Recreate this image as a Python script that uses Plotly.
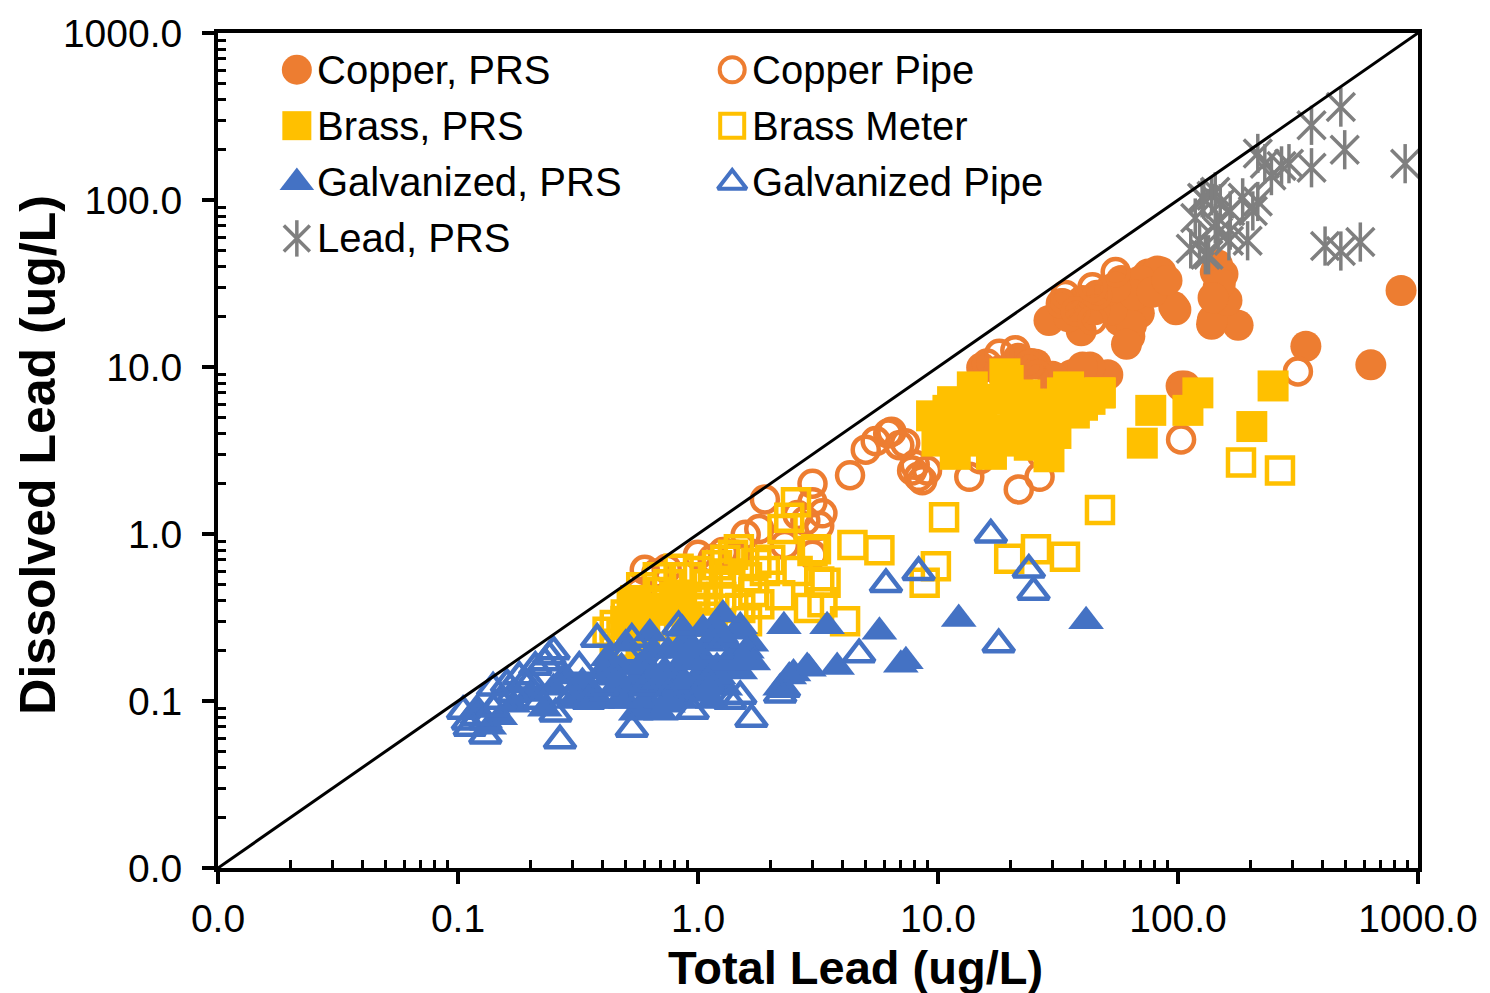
import plotly.graph_objects as go

# ---- measured lead concentrations (ug/L): total vs dissolved ----
copper_prs_total = [636, 850, 341, 178, 138, 147, 147, 154, 98, 85, 75, 64, 63, 57, 60, 69, 69, 29,
                    40, 58, 48, 64, 39.5, 103, 15.2, 25.6, 36, 51, 43, 21.6, 30, 18, 139, 143, 96,
                    61, 82, 53, 24.5, 107, 146, 160, 150, 40, 70, 52, 45, 66, 35, 33, 55, 78, 90, 140]
copper_prs_diss = [10.3, 28.7, 13.3, 17.8, 18, 24, 30, 36, 22, 37, 36, 24, 15.3, 19, 25, 29, 21, 19,
                   25, 33, 26.5, 17.8, 16.5, 7.7, 9.9, 10.4, 9.0, 9.0, 10, 11.3, 8.8, 9.5, 19.1, 37, 23,
                   13.7, 37.6, 22, 10.5, 7.7, 41, 25, 31.5, 10.0, 33, 29, 22, 27, 20, 24, 30, 28, 33, 26]

copper_pipe_total = [103, 316, 21.7, 26.5, 4.3, 1.9, 3.0, 3.0, 3.3, 3.2, 6.4, 7.3, 8.3, 7.8, 13.5, 6.2,
                     6.9, 8.0, 8.6, 21, 24, 32.5, 34, 37.5, 44, 46, 55, 44, 1.8, 2.3, 3.0, 1.58, 1.44,
                     0.74, 0.67, 1.15, 0.6, 0.57, 1.0, 1.27, 2.6, 2.8, 5.5, 5.0, 9.0, 15, 16, 18, 26, 27]
copper_pipe_diss = [3.68, 9.4, 1.85, 2.2, 2.25, 1.61, 2.0, 1.55, 1.33, 1.12, 4.1, 3.5, 2.2, 2.4, 2.2, 4.0,
                    3.4, 2.6, 2.1, 12.6, 10.3, 24, 27, 21.6, 19.1, 27, 37, 30, 1.07, 0.86, 0.75, 0.99, 0.75,
                    0.62, 0.58, 0.71, 0.61, 0.45, 0.75, 0.78, 1.3, 1.2, 3.6, 3.2, 2.4, 2.8, 10.5, 12, 9, 3.0]

brass_prs_total = [77, 71, 121, 110, 203, 249, 47.5, 13.9, 19.6, 9.4, 11.8, 16.7, 29, 33, 28, 37, 47,
                   22, 15.2, 11, 9.9, 13, 18.5, 24, 19.5, 16.3, 35, 43, 19, 12, 26, 31, 14, 10.5,
                   0.5, 0.6, 0.7, 0.9, 21, 17, 25, 14.5, 11.5, 23, 30, 40, 0.55, 0.8]
brass_prs_diss = [5.5, 3.5, 7.0, 5.5, 4.4, 7.7, 7.0, 7.6, 8.3, 5.1, 3.0, 3.0, 2.9, 7.0, 5.5, 5.3, 7.0,
                  4.6, 4.8, 5.5, 3.6, 3.6, 3.6, 3.4, 7.0, 6.4, 7.6, 6.4, 9.1, 4.2, 6.0, 4.0, 5.8, 4.4,
                  0.3, 0.25, 0.35, 0.3, 5.2, 4.2, 4.0, 4.6, 6.2, 6.8, 4.8, 5.9, 0.4, 0.42]

brass_meter_total = [47.3, 183, 266, 10.6, 9.8, 8.8, 19.8, 25.6, 33.8, 4.4, 5.7, 4.1, 3.3, 3.0, 2.56,
                     3.2, 2.25, 3.1, 3.4, 1.48, 1.75, 0.53, 0.45, 0.83, 1.33, 2.2, 2.9, 0.5, 0.55, 0.6,
                     0.65, 0.7, 0.75, 0.8, 0.9, 1.0, 1.1, 1.2, 1.3, 1.4, 1.6, 1.7, 1.9, 2.0, 0.65, 0.75,
                     0.85, 0.95, 1.05, 1.25, 1.5, 1.8, 0.58, 0.68, 2.4, 2.6, 1.15, 0.48, 0.42, 1.6,
                     0.45, 0.5, 0.6, 0.9, 1.1, 0.72, 1.35]
brass_meter_diss = [1.39, 2.68, 2.4, 1.26, 0.64, 0.51, 0.71, 0.81, 0.73, 0.86, 0.80, 0.30, 0.39, 0.79, 1.55,
                    0.52, 1.07, 0.81, 0.51, 0.81, 0.67, 0.38, 0.285, 0.62, 0.51, 0.43, 0.36, 0.33, 0.3, 0.36,
                    0.4, 0.45, 0.5, 0.42, 0.55, 0.6, 0.5, 0.65, 0.7, 0.75, 0.55, 0.45, 0.6, 0.7, 0.3, 0.35,
                    0.38, 0.42, 0.4, 0.42, 0.36, 0.38, 0.48, 0.55, 1.25, 0.6, 0.32, 0.25, 0.26, 0.3,
                    0.22, 0.2, 0.22, 0.32, 0.36, 0.28, 0.58]

galv_prs_total = [41.4, 12.2, 7.35, 7.0, 5.7, 3.45, 3.8, 2.85, 2.5, 2.9, 2.28, 2.4, 2.2, 1.67, 1.44,
                  1.5, 1.27, 1.19, 1.05, 0.86, 0.63, 0.5, 0.4, 0.45, 0.5, 0.55, 0.6, 0.65, 0.7, 0.75,
                  0.8, 0.85, 0.9, 1.0, 1.1, 1.2, 1.3, 1.4, 1.5, 1.6, 1.7, 0.35, 0.3, 0.28, 0.6, 0.7,
                  0.55, 0.95, 1.15, 0.65, 0.42, 0.48, 1.3, 0.9, 0.2, 0.23, 0.15, 0.12, 0.135, 0.17,
                  0.25, 0.38, 0.8, 1.05, 0.72, 0.33, 0.37, 0.44, 0.52, 0.58, 0.68, 0.78, 0.88, 0.98,
                  1.08, 1.22, 1.35, 1.55, 0.62, 0.82, 1.12, 0.47, 0.57, 0.75, 0.95, 1.25]
galv_prs_diss = [0.30, 0.31, 0.173, 0.165, 0.26, 0.28, 0.16, 0.16, 0.146, 0.156, 0.28, 0.14, 0.12, 0.22, 0.26,
                 0.28, 0.33, 0.28, 0.27, 0.27, 0.254, 0.22, 0.15, 0.12, 0.1, 0.13, 0.17, 0.09, 0.12, 0.2,
                 0.15, 0.1, 0.18, 0.14, 0.22, 0.16, 0.12, 0.19, 0.15, 0.2, 0.17, 0.12, 0.1, 0.14, 0.1, 0.085,
                 0.085, 0.11, 0.1, 0.2, 0.18, 0.16, 0.23, 0.23, 0.11, 0.09, 0.08, 0.09, 0.07, 0.095,
                 0.12, 0.1, 0.12, 0.18, 0.15, 0.13, 0.11, 0.14, 0.12, 0.14, 0.13, 0.11, 0.13, 0.17,
                 0.13, 0.14, 0.17, 0.18, 0.16, 0.2, 0.12, 0.1, 0.16, 0.095, 0.21, 0.25]

galv_pipe_total = [0.105, 0.11, 0.112, 0.12, 0.13, 0.13, 0.14, 0.15, 0.16, 0.17, 0.18, 0.2, 0.21, 0.22,
                   0.23, 0.25, 0.255, 0.266, 0.27, 0.3, 0.32, 0.38, 0.4, 0.45, 0.5, 0.53, 0.53, 0.6, 0.7,
                   0.83, 0.95, 1.1, 1.36, 1.5, 1.67, 2.2, 2.28, 4.69, 6.07, 8.3, 16.6, 17.9, 23.9, 25,
                   0.19, 0.24, 0.14, 0.35, 1.2, 0.75]
galv_pipe_diss = [0.087, 0.075, 0.069, 0.08, 0.062, 0.075, 0.09, 0.1, 0.126, 0.11, 0.14, 0.13, 0.16, 0.1,
                  0.17, 0.198, 0.084, 0.058, 0.13, 0.11, 0.16, 0.235, 0.12, 0.14, 0.19, 0.235, 0.068, 0.12, 0.16,
                  0.28, 0.087, 0.13, 0.10, 0.107, 0.078, 0.109, 0.118, 0.19, 0.50, 0.59, 0.99, 0.218, 0.61, 0.45,
                  0.13, 0.185, 0.12, 0.1, 0.2, 0.11]

lead_prs_total = [477, 360, 495, 360, 884, 410, 477, 575, 290, 230, 215, 245, 143, 150, 126, 186, 215,
                  205, 165, 143, 123, 130, 163, 195, 147, 118, 165, 270, 138, 113, 134, 128]
lead_prs_diss = [360, 280, 200, 156, 165, 53, 49.5, 56, 165, 165, 190, 140, 112, 95, 103, 103, 98,
                 86, 86, 72, 57, 47, 57, 57, 64, 78, 66, 160, 106, 51, 47, 101]

AXIS_TICKS = [0.01, 0.1, 1, 10, 100, 1000]
AXIS_TICKTEXT = ["0.0", "0.1", "1.0", "10.0", "100.0", "1000.0"]

ORANGE = "#ED7D31"
GOLD = "#FFC000"
BLUE = "#4472C4"
GREY = "#7F7F7F"
FONT = "Liberation Sans, Arial, sans-serif"

fig = go.Figure()


def add_points(x, y, symbol, color, size, lw=0):
    fig.add_trace(go.Scatter(
        x=x, y=y, mode="markers", showlegend=False, hoverinfo="skip",
        marker=dict(symbol=symbol, color=color, size=size,
                    line=dict(width=lw, color=color)),
    ))


add_points(copper_prs_total, copper_prs_diss, "circle", ORANGE, 31)
add_points(copper_pipe_total, copper_pipe_diss, "circle-open", ORANGE, 26, 4.5)
add_points(brass_prs_total, brass_prs_diss, "square", GOLD, 31)
add_points(brass_meter_total, brass_meter_diss, "square-open", GOLD, 26, 4.5)
add_points(galv_prs_total, galv_prs_diss, "triangle-up", BLUE, 31)
add_points(galv_pipe_total, galv_pipe_diss, "triangle-up-open", BLUE, 27, 4.5)
# asterisk: diagonal cross plus a vertical stroke
add_points(lead_prs_total, lead_prs_diss, "x-thin-open", GREY, 28, 3.5)
add_points(lead_prs_total, lead_prs_diss, "line-ns-open", GREY, 28, 3.5)

# 1:1 reference line
fig.add_trace(go.Scatter(
    x=[AXIS_TICKS[0], AXIS_TICKS[-1]], y=[AXIS_TICKS[0], AXIS_TICKS[-1]],
    mode="lines", line=dict(color="black", width=3),
    showlegend=False, hoverinfo="skip",
))

# legend drawn inside the plot on an overlay axis (0..1 spans the plot area)
legend_entries = [
    ("Copper, PRS", "circle", ORANGE, 30, 0, 0.0657, 0.956),
    ("Copper Pipe", "circle-open", ORANGE, 25, 4, 0.4285, 0.956),
    ("Brass, PRS", "square", GOLD, 29, 0, 0.0657, 0.889),
    ("Brass Meter", "square-open", GOLD, 24, 4, 0.4285, 0.889),
    ("Galvanized, PRS", "triangle-up", BLUE, 30, 0, 0.0657, 0.821),
    ("Galvanized Pipe", "triangle-up-open", BLUE, 25, 4, 0.4285, 0.821),
    ("Lead, PRS", "x-thin-open", GREY, 26, 3.5, 0.0657, 0.754),
]
for name, sym, col, sz, lw, lx, ly in legend_entries:
    syms = [sym, "line-ns-open"] if sym == "x-thin-open" else [sym]
    for s in syms:
        fig.add_trace(go.Scatter(
            x=[lx], y=[ly], xaxis="x2", yaxis="y2", mode="markers",
            showlegend=False, hoverinfo="skip", cliponaxis=False,
            marker=dict(symbol=s, color=col, size=sz, line=dict(width=lw, color=col)),
        ))
    fig.add_annotation(
        x=lx + 0.0150, y=ly, xref="paper", yref="paper", text=name,
        showarrow=False, xanchor="left", yanchor="middle",
        font=dict(family=FONT, size=40, color="black"),
    )

axis_common = dict(
    type="log", range=[-2, 3], showgrid=False, zeroline=False,
    showline=True, linecolor="black", linewidth=4, mirror=True,
    ticks="outside", ticklen=12, tickwidth=4, tickcolor="black",
    tickmode="array", tickvals=AXIS_TICKS, ticktext=AXIS_TICKTEXT,
    tickfont=dict(family=FONT, size=39, color="black"),
    minor=dict(ticks="inside", ticklen=8, tickwidth=3, tickcolor="black",
               tickmode="array",
               tickvals=[k * 10.0 ** e for e in range(-2, 3) for k in range(2, 10)]),
)

fig.update_layout(
    width=1490, height=993,
    margin=dict(l=218, r=70, t=27, b=125),
    paper_bgcolor="white", plot_bgcolor="white",
    showlegend=False,
    xaxis=dict(**axis_common, ticklabelstandoff=1),
    yaxis=dict(**axis_common, ticklabelstandoff=12),
    xaxis2=dict(overlaying="x", range=[0, 1], visible=False),
    yaxis2=dict(overlaying="y", range=[0, 1], visible=False),
)

fig.add_annotation(
    x=0.531, y=-0.119, xref="paper", yref="paper", text="<b>Total Lead (ug/L)</b>",
    showarrow=False, xanchor="center", yanchor="middle",
    font=dict(family=FONT, size=47, color="black"),
)
fig.add_annotation(
    x=-0.150, y=0.495, xref="paper", yref="paper", text="<b>Dissolved Lead (ug/L)</b>",
    showarrow=False, xanchor="center", yanchor="middle", textangle=-90,
    font=dict(family=FONT, size=50, color="black"),
)

fig.write_html("out.html")
